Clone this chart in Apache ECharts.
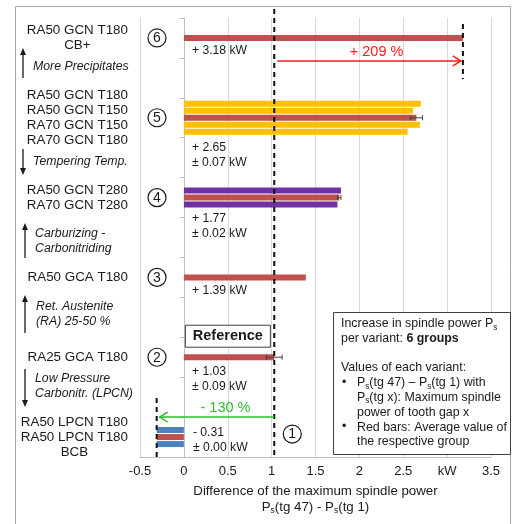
<!DOCTYPE html>
<html><head><meta charset="utf-8">
<script src="https://cdn.jsdelivr.net/npm/echarts@6/dist/echarts.min.js"></script>
<style>html,body{margin:0;padding:0;background:#fff}#c{width:513px;height:524px}</style>
</head><body><div id="c"></div>
<script>
// ---------------- data ----------------
// 11 category rows (top to bottom); groups sit on every second row
const rowIds = ['6', 'gap56', '5', 'gap45', '4', 'gap34', '3', 'gap23', '2', 'gap12', '1'];
// five bar slots per row (outer A, inner A, average, inner B, outer B)
const slotOuterA   = [null, null, 2.70, null, null, null, null, null, null, null, null];
const slotInnerA   = [null, null, 2.61, null, 1.79, null, null, null, null, null, -0.31];
const groupAverage = [3.18, null, 2.65, null, 1.77, null, 1.39, null, 1.03, null, -0.31];
const slotInnerB   = [null, null, 2.69, null, 1.75, null, null, null, null, null, -0.31];
const slotOuterB   = [null, null, 2.55, null, null, null, null, null, null, null, null];
const groupError   = [0, null, 0.07, null, 0.02, null, 0, null, 0.09, null, 0.00];
const groupNumbers = ['6', null, '5', null, '4', null, '3', null, '2', null, '1'];
const variantLabels = [
  ['RA50 GCN T180', 'CB+'], null,
  ['RA50 GCN T180', 'RA50 GCN T150', 'RA70 GCN T150', 'RA70 GCN T180'], null,
  ['RA50 GCN T280', 'RA70 GCN T280'], null,
  ['RA50 GCA T180'], null,
  ['RA25 GCA T180'], null,
  ['RA50 LPCN T180', 'RA50 LPCN T180', 'BCB']
];
const valueLabels = ['+ 3.18 kW', null, '+ 2.65\n± 0.07 kW', null, '+ 1.77\n± 0.02 kW', null,
  '+ 1.39 kW', null, '+ 1.03\n± 0.09 kW', null, '- 0.31\n± 0.00 kW'];
const xMin = -0.5, xMax = 3.5, xStep = 0.5;
const unitTickValue = 3;          // tick replaced by unit label
const unitLabel = 'kW';
const referenceValue = 1.03;
const referenceRow = 8;
const changeUp = { from: 1.03, to: 3.18, label: '+ 209 %', row: 0 };
const changeDown = { from: 1.03, to: -0.31, label: '- 130 %', row: 10 };
const sideNotes = [
  { text: 'More Precipitates', dir: 'up' },
  { text: 'Tempering Temp.', dir: 'down' },
  { text: 'Carburizing -\nCarbonitriding', dir: 'up' },
  { text: 'Ret. Austenite\n(RA) 25-50 %', dir: 'up' },
  { text: 'Low Pressure\nCarbonitr. (LPCN)', dir: 'down' }
];

// ---------------- styles ----------------
const FONT = '"Liberation Sans", Arial, sans-serif';
const INK = '#1a1a1a';
const innerColors = { 2: '#FFC000', 4: '#7030A0', 10: '#4F81BD' };
const AVG = '#C0504D', OUTER = '#FFC000';

const chart = echarts.init(document.getElementById('c'));

function bar(data, color) {
  return { type: 'bar', data, barWidth: 6, barGap: '17%', itemStyle: { color }, animation: false, z: 2 };
}
const errorData = rowIds.map((_, i) => groupError[i] != null && groupAverage[i] != null ? [i, groupAverage[i], groupError[i]] : null).filter(Boolean);

const option = {
  animation: false,
  backgroundColor: '#fff',
  grid: { left: 140, right: 22, top: 18, bottom: 67, containLabel: false, outerBoundsMode: 'none' },
  xAxis: {
    type: 'value', min: xMin, max: xMax, interval: xStep,
    axisLine: { show: true, lineStyle: { color: '#bfbfbf' } },
    axisTick: { show: false },
    splitLine: { show: true, lineStyle: { color: '#d9d9d9' } },
    axisLabel: { color: INK, fontSize: 13, fontFamily: FONT, margin: 8,
      formatter: v => Math.abs(v - unitTickValue) < 1e-9 ? unitLabel : String(Math.round(v * 100) / 100) },
    name: '{t|Difference of the maximum spindle power}\n{t|P}{s|s}{t|(tg 47) - P}{s|s}{t|(tg 1)}',
    nameLocation: 'middle', nameGap: 25,
    nameTextStyle: { color: INK, fontFamily: FONT, fontSize: 13.3, lineHeight: 16,
      rich: { t: { fontSize: 13.3, fontFamily: FONT, color: INK, lineHeight: 16 },
              s: { fontSize: 8.5, fontFamily: FONT, color: INK, lineHeight: 6, verticalAlign: 'bottom' } } }
  },
  yAxis: {
    type: 'category', data: rowIds, inverse: true,
    axisLine: { show: true, onZero: true, lineStyle: { color: '#bfbfbf' } },
    axisTick: { show: true, length: 4, lineStyle: { color: '#bfbfbf' } },
    axisLabel: { show: false }, splitLine: { show: false }
  },
  series: [
    bar(slotOuterA, OUTER),
    bar(slotInnerA, p => innerColors[p.dataIndex] || AVG),
    bar(groupAverage, AVG),
    bar(slotInnerB, p => innerColors[p.dataIndex] || AVG),
    bar(slotOuterB, OUTER),
    {
      type: 'custom', data: errorData, encode: { x: 1, y: 0 }, z: 4, animation: false,
      renderItem(params, api) {
        const row = api.value(0), avg = api.value(1), err = api.value(2);
        if (!(err > 0)) return null;
        const a = api.coord([avg - err, row]), b = api.coord([avg + err, row]);
        const st = { stroke: '#404040', lineWidth: 1 };
        return { type: 'group', children: [
          { type: 'line', shape: { x1: a[0], y1: a[1], x2: b[0], y2: b[1] }, style: st },
          { type: 'line', shape: { x1: a[0], y1: a[1] - 2.5, x2: a[0], y2: a[1] + 2.5 }, style: st },
          { type: 'line', shape: { x1: b[0], y1: b[1] - 2.5, x2: b[0], y2: b[1] + 2.5 }, style: st }
        ] };
      }
    }
  ]
};
chart.setOption(option);

// ---------------- annotations ----------------
const P = (x, row) => chart.convertToPixel({ gridIndex: 0 }, [x, row]);
const ctx = document.createElement('canvas').getContext('2d');
function measure(lines, font) { ctx.font = font; return Math.max(...lines.map(l => ctx.measureText(l).width)); }
function font(size, opt) { return (opt && opt.italic ? 'italic ' : '') + (opt && opt.bold ? 'bold ' : '') + size + 'px ' + FONT; }
function text(x, y, str, o) {
  o = o || {};
  const st = { text: str, x, y, fill: o.fill || INK, font: o.font || font(13),
    align: o.align || 'left', textAlign: o.align || 'left',
    verticalAlign: 'middle', textVerticalAlign: 'middle', lineHeight: o.lh || 15 };
  if (o.rich) st.rich = o.rich;
  return { type: 'text', z: 100, silent: true, style: st };
}
function line(x1, y1, x2, y2, st) { return { type: 'line', z: 100, silent: true, shape: { x1, y1, x2, y2 }, style: st }; }
const dashed = { stroke: '#111', lineWidth: 2, lineDash: [5, 4] };
const g = [];

// outer frame
g.push({ type: 'rect', z: 90, silent: true, shape: { x: 15.5, y: 6.5, width: 495, height: 530 }, style: { fill: null, stroke: '#a6a6a6', lineWidth: 1 } });

const zeroX = P(0, 0)[0];
// left variant labels, circled numbers, value labels
const labelFont = font(13.4);
rowIds.forEach((_, i) => {
  const y = P(0, i)[1];
  if (variantLabels[i]) {
    const w = measure(variantLabels[i], labelFont);
    g.push(text(128 - w / 2, y, variantLabels[i].join('\n'), { align: 'center', font: labelFont, lh: 15 }));
  }
  if (groupNumbers[i]) {
    let cx = 157, cy = y;
    if (i === 10) { cx = P(referenceValue, i)[0] + 18; cy = y - 3; }
    g.push({ type: 'circle', z: 100, silent: true, shape: { cx, cy, r: 9 }, style: { fill: '#fff', stroke: INK, lineWidth: 1.2 } });
    g.push(text(cx, cy + 0.5, groupNumbers[i], { align: 'center', font: font(14) }));
  }
});
const valueOffsets = { 0: 13, 2: 37, 4: 28.5, 6: 13, 8: 21.5, 10: 3 };
rowIds.forEach((_, i) => {
  if (!valueLabels[i]) return;
  const y = P(0, i)[1] + valueOffsets[i];
  g.push(text(zeroX + (i === 10 ? 9 : 8), y, valueLabels[i], { font: font(12.2), lh: 15 }));
});

// side notes with arrows
const noteLayout = [
  { x: 33, y: 67, ax: 23, a1: 78, a2: 48 },
  { x: 33, y: 162, ax: 23, a1: 149, a2: 175 },
  { x: 35, y: 241, ax: 25, a1: 258, a2: 223 },
  { x: 36, y: 314.5, ax: 25, a1: 333, a2: 295 },
  { x: 35, y: 386.5, ax: 25, a1: 369, a2: 407 }
];
sideNotes.forEach((n, k) => {
  const L = noteLayout[k];
  g.push(text(L.x, L.y, n.text, { font: font(12.3, { italic: true }), lh: 15 }));
  const tip = L.a2, dir = n.dir === 'up' ? 1 : -1;
  g.push(line(L.ax, L.a1, L.ax, tip + dir * 5, { stroke: INK, lineWidth: 1.3 }));
  g.push({ type: 'polygon', z: 100, silent: true, shape: { points: [[L.ax, tip], [L.ax - 3, tip + dir * 7], [L.ax + 3, tip + dir * 7]] }, style: { fill: INK } });
});

// reference dashed line
const refX = P(referenceValue, 0)[0];
g.push(line(refX, 9, refX, P(0, 10)[1] + 20, dashed));
// up change
{
  const y0 = P(0, changeUp.row)[1];
  const tx = P(changeUp.to, changeUp.row)[0];
  g.push(line(tx, y0 - 14, tx, y0 + 41, dashed));
  const ay = y0 + 23;
  const st = { stroke: '#FF1a1a', lineWidth: 1.5 };
  g.push(line(refX + 3, ay, tx - 2, ay, st));
  g.push({ type: 'polyline', z: 100, silent: true, shape: { points: [[tx - 10, ay - 5], [tx - 2, ay], [tx - 10, ay + 5]] }, style: st });
  g.push(text((refX + tx) / 2 + 8, ay - 9, changeUp.label, { align: 'center', font: font(14.5), fill: '#FF1a1a' }));
}
// down change
{
  const y0 = P(0, changeDown.row)[1];
  const tx = P(changeDown.to, changeDown.row)[0];
  g.push(line(tx, y0 - 39, tx, y0 + 20, dashed));
  const ay = y0 - 20;
  const st = { stroke: '#2EBE2E', lineWidth: 1.5 };
  g.push(line(refX, ay, tx + 3, ay, st));
  g.push({ type: 'polyline', z: 100, silent: true, shape: { points: [[tx + 11, ay - 5], [tx + 3, ay], [tx + 11, ay + 5]] }, style: st });
  g.push(text((refX + tx) / 2 + 10, ay - 9, changeDown.label, { align: 'center', font: font(14.5), fill: '#2EBE2E' }));
}

// Reference box
{
  const y = P(0, referenceRow)[1];
  g.push({ type: 'rect', z: 100, silent: true, shape: { x: zeroX + 1.5, y: y - 32, width: 85, height: 22 }, style: { fill: '#fff', stroke: '#404040', lineWidth: 1 } });
  g.push(text(zeroX + 44, y - 21, 'Reference', { align: 'center', font: font(14.5, { bold: true }) }));
}

// info box
{
  const rich = { s: { fontSize: 8.2, fontFamily: FONT, fill: INK, lineHeight: 6, verticalAlign: 'bottom' },
                 b: { fontSize: 12.4, fontFamily: FONT, fontWeight: 'bold', fill: INK, lineHeight: 14.7 } };
  const f = font(12.4);
  g.push({ type: 'rect', z: 95, silent: true, shape: { x: 333.5, y: 312.5, width: 177, height: 142 }, style: { fill: '#fff', stroke: '#404040', lineWidth: 1 } });
  g.push(text(341, 324, 'Increase in spindle power P{s|s}', { font: f, rich, lh: 14.7 }));
  g.push(text(341, 339, 'per variant: {b|6 groups}', { font: f, rich, lh: 14.7 }));
  g.push(text(341, 368, 'Values of each variant:', { font: f, lh: 14.7 }));
  g.push(text(342, 383, '•', { font: f }));
  g.push(text(342, 427, '•', { font: f }));
  g.push(text(357, 383, 'P{s|s}(tg 47) – P{s|s}(tg 1) with', { font: f, rich, lh: 14.7 }));
  g.push(text(357, 397.7, 'P{s|s}(tg x): Maximum spindle', { font: f, rich, lh: 14.7 }));
  g.push(text(357, 412.4, 'power of tooth gap x', { font: f, lh: 14.7 }));
  g.push(text(357, 427.1, 'Red bars: Average value of', { font: f, lh: 14.7 }));
  g.push(text(357, 441.8, 'the respective group', { font: f, lh: 14.7 }));
}

chart.setOption({ graphic: { elements: g } });
</script>
</body></html>
